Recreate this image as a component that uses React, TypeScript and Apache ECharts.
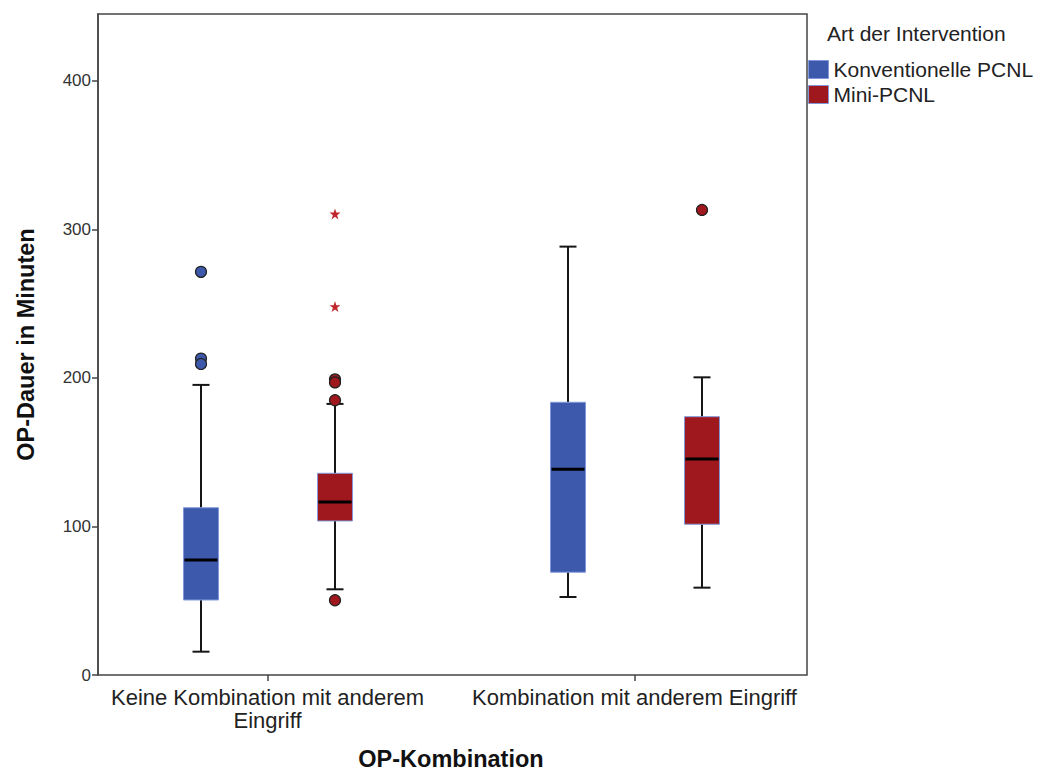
import React, { useEffect, useRef } from "react";
import * as echarts from "echarts";

const categories = ["Keine Kombination mit anderem\nEingriff", "Kombination mit anderem Eingriff"];
const seriesNames = ["Konventionelle PCNL", "Mini-PCNL"];
// [categoryIndex, min, Q1, median, Q3, max]
const konvBoxes = [
  [0, 15.7, 50.5, 77.4, 112.6, 195.3],
  [1, 52.5, 69.2, 138.5, 183.6, 288.4],
];
const miniBoxes = [
  [0, 57.7, 103.7, 116.5, 135.8, 182.5],
  [1, 58.8, 101.5, 145.5, 173.9, 200.4],
];
// [categoryIndex, value]
const konvOutliers = [
  [0, 271.4],
  [0, 213.0],
  [0, 209.4],
];
const miniOutliers = [
  [0, 199.0],
  [0, 197.0],
  [0, 185.0],
  [0, 50.3],
  [1, 313.1],
];
const miniExtremes = [
  [0, 310.4],
  [0, 248.0],
];
const yTicks = [0, 100, 200, 300, 400];

const BLUE = "#3D59AB";
const RED = "#9E181E";
const BOX_BORDER = "#8098DA";
const FONT = "'Liberation Sans', Arial, sans-serif";
const BOX_W = 35;
const CAP_W = 17;
const OFFSETS = [-66.5, 67.5];

const STAR =
  "path://M5 0L6.2 3.6L10 3.6L6.9 5.8L8.1 9.5L5 7.2L1.9 9.5L3.1 5.8L0 3.6L3.8 3.6Z";

function boxSeries(name: string, data: number[][], color: string, offset: number) {
  return {
    type: "custom",
    name,
    data,
    itemStyle: { color },
    encode: { x: 0, y: [1, 2, 3, 4, 5] },
    z: 3,
    renderItem: (params: any, api: any) => {
      const cat = api.value(0);
      const cx = api.coord([cat, 0])[0] + offset;
      const ys = [1, 2, 3, 4, 5].map((i) => api.coord([cat, api.value(i)])[1]);
      const [yMin, yQ1, yMed, yQ3, yMax] = ys;
      const hw = BOX_W / 2;
      const cw = CAP_W / 2;
      const ls = { stroke: "#161616", lineWidth: 2 };
      return {
        type: "group",
        children: [
          { type: "line", shape: { x1: cx, y1: yMax, x2: cx, y2: yQ3 }, style: ls },
          { type: "line", shape: { x1: cx, y1: yQ1, x2: cx, y2: yMin }, style: ls },
          { type: "line", shape: { x1: cx - cw, y1: yMax, x2: cx + cw, y2: yMax }, style: ls },
          { type: "line", shape: { x1: cx - cw, y1: yMin, x2: cx + cw, y2: yMin }, style: ls },
          {
            type: "rect",
            shape: { x: cx - hw, y: yQ3, width: BOX_W, height: yQ1 - yQ3 },
            style: { fill: color, stroke: BOX_BORDER, lineWidth: 1 },
          },
          {
            type: "line",
            shape: { x1: cx - hw + 1, y1: yMed, x2: cx + hw - 1, y2: yMed },
            style: { stroke: "#000", lineWidth: 3 },
          },
        ],
      };
    },
  };
}

function outlierSeries(name: string, data: number[][], color: string, offset: number, symbol: string, size: number, border: boolean) {
  return {
    type: "scatter",
    name,
    data,
    symbol,
    symbolSize: size,
    symbolOffset: [offset, 0],
    z: 4,
    itemStyle: border
      ? { color, borderColor: "#222", borderWidth: 1.2, opacity: 1 }
      : { color, borderWidth: 0, opacity: 1 },
  };
}

export default function App() {
  const ref = useRef<HTMLDivElement>(null);
  useEffect(() => {
    if (!ref.current) return;
    const chart = echarts.init(ref.current, null, { renderer: "svg", width: 1038, height: 771 });
    chart.setOption({
      animation: false,
      backgroundColor: "#fff",
      textStyle: { fontFamily: FONT },
      title: {
        text: "Art der Intervention",
        left: 827,
        top: 23,
        padding: 0,
        textStyle: { fontFamily: FONT, fontSize: 21, fontWeight: "normal", color: "#222" },
      },
      legend: {
        orient: "vertical",
        left: 808,
        top: 59,
        padding: 0,
        itemWidth: 20,
        itemHeight: 18,
        itemGap: 4,
        textStyle: { fontFamily: FONT, fontSize: 21, color: "#222" },
        data: [
          { name: seriesNames[0], icon: "rect", itemStyle: { color: BLUE, borderColor: BOX_BORDER, borderWidth: 1 } },
          { name: seriesNames[1], icon: "rect", itemStyle: { color: RED, borderColor: BOX_BORDER, borderWidth: 1 } },
        ],
      },
      grid: { left: 84, width: 734, top: 14, height: 661, outerBoundsMode: "none", containLabel: false },
      xAxis: {
        type: "category",
        data: categories,
        boundaryGap: true,
        axisLine: { show: false },
        axisTick: { show: true, alignWithLabel: true, length: 6, lineStyle: { color: "#444", width: 1.5 } },
        axisLabel: { fontFamily: FONT, fontSize: 22, color: "#222", margin: 11, lineHeight: 23, interval: 0 },
        splitLine: { show: false },
        name: "OP-Kombination",
        nameLocation: "middle",
        nameGap: 72,
        nameTextStyle: { fontFamily: FONT, fontSize: 23.5, fontWeight: "bold", color: "#111" },
      },
      yAxis: {
        type: "value",
        min: 0,
        max: 445,
        interval: 100,
        offset: -14,
        axisLine: { show: true, lineStyle: { color: "#444", width: 1.5 } },
        axisTick: { show: true, length: 6, lineStyle: { color: "#444", width: 1.5 }, customValues: yTicks },
        axisLabel: { fontFamily: FONT, fontSize: 17, color: "#333", margin: 7, customValues: yTicks },
        splitLine: { show: false },
        name: "OP-Dauer in Minuten",
        nameLocation: "middle",
        nameGap: 60,
        nameTextStyle: { fontFamily: FONT, fontSize: 23.5, fontWeight: "bold", color: "#111" },
      },
      graphic: [
        {
          type: "rect",
          shape: { x: 98, y: 14, width: 709, height: 661 },
          style: { fill: "none", stroke: "#444", lineWidth: 1.5 },
          z: 10,
          silent: true,
        },
      ],
      series: [
        boxSeries(seriesNames[0], konvBoxes, BLUE, OFFSETS[0]),
        boxSeries(seriesNames[1], miniBoxes, RED, OFFSETS[1]),
        outlierSeries(seriesNames[0], konvOutliers, BLUE, OFFSETS[0], "circle", 11, true),
        outlierSeries(seriesNames[1], miniOutliers, RED, OFFSETS[1], "circle", 11, true),
        outlierSeries(seriesNames[1], miniExtremes, "#C0262C", OFFSETS[1], STAR, 11, false),
      ],
    });
    return () => chart.dispose();
  }, []);
  return (
    <div
      ref={ref}
      style={{ position: "fixed", left: 0, top: 0, width: 1038, height: 771, background: "#fff" }}
    />
  );
}
